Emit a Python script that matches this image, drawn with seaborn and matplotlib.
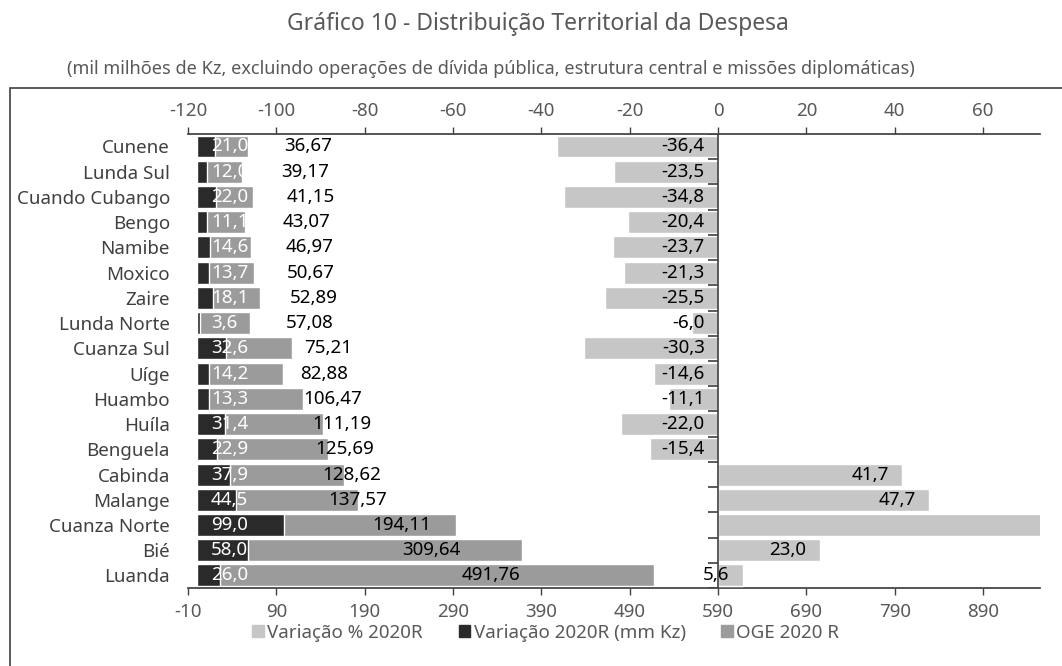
import seaborn as sns
import matplotlib.pyplot as plt
from matplotlib.patches import Rectangle, Patch

# dados (mil milhões de Kz)
provincias = ["Cunene", "Lunda Sul", "Cuando Cubango", "Bengo", "Namibe", "Moxico",
              "Zaire", "Lunda Norte", "Cuanza Sul", "Uíge", "Huambo", "Huíla",
              "Benguela", "Cabinda", "Malange", "Cuanza Norte", "Bié", "Luanda"]
oge_2020r = [36.67, 39.17, 41.15, 43.07, 46.97, 50.67, 52.89, 57.08, 75.21, 82.88,
             106.47, 111.19, 125.69, 128.62, 137.57, 194.11, 309.64, 491.76]
var_mmkz = [21.0, 12.0, 22.0, 11.1, 14.6, 13.7, 18.1, 3.6, 32.6, 14.2,
            13.3, 31.4, 22.9, 37.9, 44.5, 99.0, 58.0, 26.0]
var_pct = [-36.4, -23.5, -34.8, -20.4, -23.7, -21.3, -25.5, -6.0, -30.3, -14.6,
           -11.1, -22.0, -15.4, 41.7, 47.7, 104.1, 23.0, 5.6]
ticks_mmkz = [-10, 90, 190, 290, 390, 490, 590, 690, 790, 890]
ticks_pct = [-120, -100, -80, -60, -40, -20, 0, 20, 40, 60]

c_pct = "#c6c6c6"
c_var = "#2a2a2a"
c_oge = "#9b9b9b"
c_txt = "#595959"

sns.set_theme(style="white")
plt.rcParams["font.family"] = ["Noto Sans", "DejaVu Sans"]
plt.rcParams["axes.unicode_minus"] = False

fig = plt.figure(figsize=(10.62, 6.66), dpi=100)
ax = fig.add_axes([0.177, 0.117, 0.802, 0.682])
ax2 = ax.twiny()

# barras empilhadas: variação (mm Kz) + OGE 2020 R
total = [v + o for v, o in zip(var_mmkz, oge_2020r)]
sns.barplot(x=total, y=provincias, color=c_oge, saturation=1, width=0.87, ax=ax)
sns.barplot(x=var_mmkz, y=provincias, color=c_var, saturation=1, width=0.87, ax=ax)

# variação % no eixo superior
sns.barplot(x=var_pct, y=provincias, color=c_pct, saturation=1, width=0.87, ax=ax2)

xmax_pct = 72.8
ax.set_xlim(-10, 954)
ax2.set_xlim(-120, xmax_pct)
ax.set_xticks(ticks_mmkz)
ax2.set_xticks(ticks_pct)
ax.set_xlabel("")
ax2.set_xlabel("")
ax.set_ylabel("")
ax2.set_ylabel("")

for a in (ax, ax2):
    for s in a.spines.values():
        s.set_visible(False)
ax.spines["bottom"].set_visible(True)
ax2.spines["top"].set_visible(True)
ax.spines["bottom"].set_color("#404040")
ax2.spines["top"].set_color("#404040")

ax.tick_params(axis="x", direction="out", length=5, width=1, color="#404040",
               labelsize=13.5, labelcolor=c_txt, pad=6)
ax2.tick_params(axis="x", direction="out", length=5, width=1, color="#404040",
                labelsize=13.5, labelcolor=c_txt, pad=5)
ax.tick_params(axis="y", length=0, labelsize=13.5, labelcolor="#404040", pad=13)

# eixo vertical no 0 da variação %
ax2.axvline(0, color="#404040", lw=1.2)
bounds = [i - 0.5 for i in range(len(provincias) + 1)]
ax2.hlines(bounds, -2.2, 0, color="#404040", lw=1.2)
ax.set_ylim(len(provincias) - 0.5, -0.5)

def fmt(v, d):
    return f"{v:.{d}f}".replace(".", ",")

# rótulos
for i, (v, o) in enumerate(zip(var_mmkz, oge_2020r)):
    ax.text(16, i, fmt(v, 1), color="white", fontsize=13.5, ha="left", va="center")
    ax.text(0.45 * (v + o) + 100, i, fmt(o, 2), color="black", fontsize=13.5,
            ha="center", va="center")
for i, p in enumerate(var_pct):
    if p < xmax_pct:
        ax2.text(max(p, 0) - 3, i, fmt(p, 1), color="black", fontsize=13.5,
                 ha="right", va="center")

# legenda
handles = [Patch(color=c_pct, label="Variação % 2020R"),
           Patch(color=c_var, label="Variação 2020R (mm Kz)"),
           Patch(color=c_oge, label="OGE 2020 R")]
leg = fig.legend(handles=handles, loc="center", bbox_to_anchor=(0.514, 1 - 633 / 666),
                 ncol=3, frameon=False, fontsize=13.5, handlelength=0.6,
                 handleheight=0.6, handletextpad=0.2, columnspacing=1.9)
for t in leg.get_texts():
    t.set_color(c_txt)

# títulos
fig.text(0.507, 1 - 24 / 666, "Gráfico 10 - Distribuição Territorial da Despesa",
         ha="center", va="center", fontsize=16.5, color=c_txt)
fig.text(0.462, 1 - 69 / 666,
         "(mil milhões de Kz, excluindo operações de dívida pública, estrutura central e missões diplomáticas)",
         ha="center", va="center", fontsize=13, color=c_txt)

# moldura
fig.patches.append(Rectangle((10 / 1062, -0.05), 1.1, 1 - 88 / 666 + 0.05,
                             transform=fig.transFigure, fill=False,
                             edgecolor="#404040", lw=1.2))

fig.savefig("out.png", dpi=100)
